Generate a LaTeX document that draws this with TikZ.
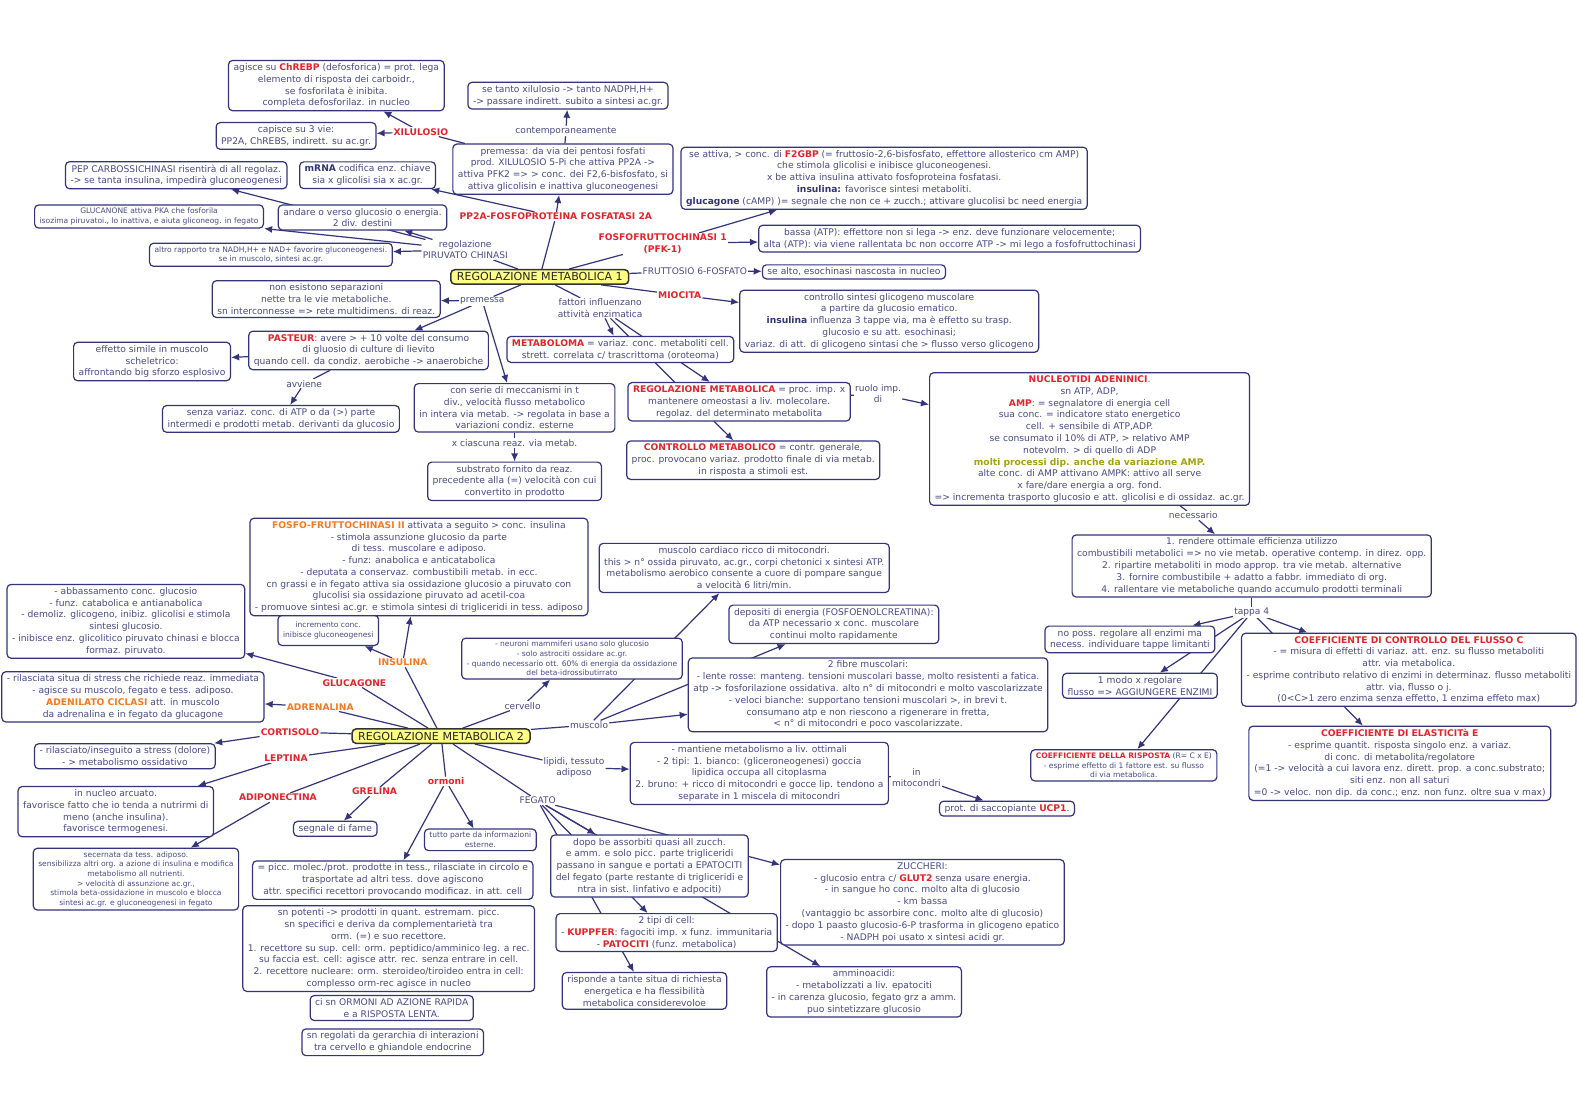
\documentclass[tikz,border=0pt]{standalone}
\usepackage{fontspec}
\setmainfont{DejaVu Sans}
\usepackage{xcolor}
\usepackage{tikz}
\usetikzlibrary{arrows.meta,backgrounds}

\definecolor{edgeblue}{HTML}{34347C}
\definecolor{txtblue}{HTML}{4A4A86}
\definecolor{lblred}{HTML}{E2252B}
\definecolor{lblorange}{HTML}{F27B22}
\definecolor{olivetxt}{HTML}{A3A30C}
\definecolor{mainyellow}{HTML}{FFFF84}

\newcommand{\rkw}[1]{\textbf{\textcolor{lblred}{#1}}}
\newcommand{\okw}[1]{\textbf{\textcolor{lblorange}{#1}}}
\newcommand{\bkw}[1]{\textbf{\textcolor{edgeblue}{#1}}}

\begin{document}
\begin{tikzpicture}[
    x=1pt, y=-1pt,
    box/.style={rectangle, draw=edgeblue, line width=1.2pt, rounded corners=4pt, fill=white, align=center, text=txtblue, inner xsep=5pt, inner ysep=3pt, font=\fontsize{9.1}{11.7}\selectfont},
    smallbox/.style={box, font=\fontsize{7.5}{9.6}\selectfont},
    mainbox/.style={rectangle, draw=black!80, line width=1.5pt, rounded corners=4pt, fill=mainyellow, inner xsep=6pt, inner ysep=3pt, font=\fontsize{11}{13}\selectfont, text=black!85},
    link/.style={align=center, text=txtblue, fill=white, inner sep=1pt, font=\fontsize{9}{11}\selectfont},
    redlabel/.style={link, text=lblred, font=\fontsize{9.1}{11}\selectfont\bfseries},
    orangelabel/.style={redlabel, text=lblorange},
    linkline/.style={draw=edgeblue, line width=1.2pt},
    arrow/.style={linkline, -{Latex[length=8pt,width=7pt]}}
]
    \useasboundingbox (0,0) rectangle (1568,1108);

    % Top left: xilulosio and piruvato chinasi
    \node[box] (chrebp) at (334,85) {agisce su \rkw{ChREBP} (defosforica) = prot. lega\\elemento di risposta dei carboidr.,\\se fosforilata è inibita.\\completa defosforilaz. in nucleo};
    \node[box] (capisce) at (294,135) {capisce su 3 vie:\\PP2A, ChREBS, indirett. su ac.gr.};
    \node[redlabel] (xilulosio) at (418,131) {XILULOSIO};
    \node[box] (pep) at (175,174) {PEP CARBOSSICHINASI risentirà di all regolaz.\\-> se tanta insulina, impedirà gluconeogenesi};
    \node[box] (mrna) at (365,174) {\bkw{mRNA} codifica enz. chiave\\sia x glicolisi sia x ac.gr.};
    \node[smallbox] (glucanone) at (148,215) {GLUCANONE attiva PKA che fosforila\\isozima piruvatoi., lo inattiva, e aiuta gliconeog. in fegato};
    \node[box] (andare) at (360,216) {andare o verso glucosio o energia.\\2 div. destini};
    \node[smallbox] (altro) at (269,253) {altro rapporto tra NADH,H+ e NAD+ favorire gluconeogenesi.\\se in muscolo, sintesi ac.gr.};
    \node[box] (nonesist) at (324,297) {non esistono separazioni\\nette tra le vie metaboliche.\\sn interconnesse => rete multidimens. di reaz.};

    % Top middle
    \node[box] (tantoxil) at (564,95) {se tanto xilulosio -> tanto NADPH,H+\\-> passare indirett. subito a sintesi ac.gr.};
    \node[link] (contemp) at (562,130) {contemporaneamente};
    \node[box] (premessa) at (559,168) {premessa: da via dei pentosi fosfati\\prod. XILULOSIO 5-Pi che attiva PP2A ->\\attiva PFK2 => > conc. dei F2,6-bisfosfato, si\\attiva glicolisin e inattiva gluconeogenesi};
    \node[redlabel] (pp2a) at (552,215) {PP2A-FOSFOPROTEINA FOSFATASI 2A};
    \node[link] (regpiruv) at (462,248) {regolazione\\PIRUVATO CHINASI};
    \node[mainbox] (reg1) at (536,275) {REGOLAZIONE METABOLICA 1};

    % Top right
    \node[box] (f2gbp) at (878,177) {se attiva, > conc. di \rkw{F2GBP} (= fruttosio-2,6-bisfosfato, effettore allosterico cm AMP)\\che stimola glicolisi e inibisce gluconeogenesi.\\x be attiva insulina attivato fosfoproteina fosfatasi.\\\bkw{insulina:} favorisce sintesi metaboliti.\\\bkw{glucagone} (cAMP) )= segnale che non ce + zucch.; attivare glucolisi bc need energia};
    \node[redlabel] (pfk1) at (658,242) {FOSFOFRUTTOCHINASI 1\\(PFK-1)};
    \node[box] (bassa) at (943,237) {bassa (ATP): effettore non si lega -> enz. deve funzionare velocemente;\\alta (ATP): via viene rallentata bc non occorre ATP -> mi lego a fosfofruttochinasi};
    \node[link] (fruttosio) at (690,269) {FRUTTOSIO 6-FOSFATO};
    \node[box] (sealto) at (848,270) {se alto, esochinasi nascosta in nucleo};
    \node[redlabel] (miocita) at (675,293) {MIOCITA};
    \node[box] (glicogeno) at (883,319) {controllo sintesi glicogeno muscolare\\a partire da glucosio ematico.\\\bkw{insulina} influenza 3 tappe via, ma è effetto su trasp.\\glucosio e su att. esochinasi;\\variaz. di att. di glicogeno sintasi che > flusso verso glicogeno};

    % Middle: premessa and fattori
    \node[link] (premessa2) at (479,299) {premessa};
    \node[box] (pasteur) at (366,348) {\rkw{PASTEUR}: avere > + 10 volte del consumo\\di gluosio di culture di lievito\\quando cell. da condiz. aerobiche -> anaerobiche};
    \node[box] (effetto) at (151,359) {effetto simile in muscolo\\scheletrico:\\affrontando big sforzo esplosivo};
    \node[link] (avviene) at (302,381) {avviene};
    \node[box] (senza) at (279,416) {senza variaz. conc. di ATP o da (>) parte\\intermedi e prodotti metab. derivanti da glucosio};
    \node[box] (conserie) at (511,405) {con serie di meccanismi in t\\div., velocità flusso metabolico\\in intera via metab. -> regolata in base a\\variazioni condiz. esterne};
    \node[link] (xciascuna) at (511,440) {x ciascuna reaz. via metab.};
    \node[box] (substrato) at (511,478) {substrato fornito da reaz.\\precedente alla (=) velocità con cui\\convertito in prodotto};
    \node[link] (fattori) at (596,306) {fattori influenzano\\attività enzimatica};
    \node[box] (metaboloma) at (616,347) {\rkw{METABOLOMA} = variaz. conc. metaboliti cell.\\strett. correlata c/ trascrittoma (oroteoma)};
    \node[box] (regmet) at (734,399) {\rkw{REGOLAZIONE METABOLICA} = proc. imp. x\\mantenere omeostasi a liv. molecolare.\\regolaz. del determinato metabolita};
    \node[box] (controllomet) at (748,457) {\rkw{CONTROLLO METABOLICO} = contr. generale,\\proc. provocano variaz. prodotto finale di via metab.\\in risposta a stimoli est.};
    \node[link] (ruolo) at (872,391) {ruolo imp.\\di};

    % Right: nucleotidi and coefficienti
    \node[box] (nucleotidi) at (1082,436) {\rkw{NUCLEOTIDI ADENINICI}.\\sn ATP, ADP,\\\rkw{AMP}: = segnalatore di energia cell\\sua conc. = indicatore stato energetico\\cell. + sensibile di ATP,ADP.\\se consumato il 10\% di ATP, > relativo AMP\\notevolm. > di quello di ADP\\\textbf{\textcolor{olivetxt}{molti processi dip. anche da variazione AMP.}}\\alte conc. di AMP attivano AMPK: attivo all serve\\x fare/dare energia a org. fond.\\=> incrementa trasporto glucosio e att. glicolisi e di ossidaz. ac.gr.};
    \node[link] (necessario) at (1185,512) {necessario};
    \node[box] (rendere) at (1243,562) {1. rendere ottimale efficienza utilizzo\\combustibili metabolici => no vie metab. operative contemp. in direz. opp.\\2. ripartire metaboliti in modo approp. tra vie metab. alternative\\3. fornire combustibile + adatto a fabbr. immediato di org.\\4. rallentare vie metaboliche quando accumulo prodotti terminali};
    \node[link] (tappa) at (1243,608) {tappa 4};
    \node[box] (nopos) at (1122,635) {no poss. regolare all enzimi ma\\necess. individuare tappe limitanti};
    \node[box] (unmodo) at (1132,681) {1 modo x regolare\\flusso => AGGIUNGERE ENZIMI};
    \node[box] (coeffc) at (1399,665) {\rkw{COEFFICIENTE DI CONTROLLO DEL FLUSSO C}\\- = misura di effetti di variaz. att. enz. su flusso metaboliti\\attr. via metabolica.\\- esprime contributo relativo di enzimi in determinaz. flusso metaboliti\\attr. via, flusso o j.\\(0<C>1 zero enzima senza effetto, 1 enzima effeto max)};
    \node[box] (coeffe) at (1390,758) {\rkw{COEFFICIENTE DI ELASTICITà E}\\- esprime quantit. risposta singolo enz. a variaz.\\di conc. di metabolita/regolatore\\(=1 -> velocità a cui lavora enz. dirett. prop. a conc.substrato;\\siti enz. non all saturi\\=0 -> veloc. non dip. da conc.; enz. non funz. oltre sua v max)};
    \node[smallbox] (risposta) at (1116,760) {\rkw{COEFFICIENTE DELLA RISPOSTA} (R= C x E)\\- esprime effetto di 1 fattore est. su flusso\\di via metabolica.};
    \node[box] (ucp1) at (1000,803) {prot. di saccopiante \rkw{UCP1}.};

    % Bottom left: ormoni
    \node[smallbox, minimum height=30pt] (incremento) at (326,626) {incremento conc.\\inibisce gluconeogenesi};
    \node[box] (fosfoII) at (416,563) {\okw{FOSFO-FRUTTOCHINASI II} attivata a seguito > conc. insulina\\- stimola assunzione glucosio da parte\\di tess. muscolare e adiposo.\\- funz: anabolica e anticatabolica\\- deputata a conservaz. combustibili metab. in ecc.\\cn grassi e in fegato attiva sia ossidazione glucosio a piruvato con\\glucolisi sia ossidazione piruvato ad acetil-coa\\- promuove sintesi ac.gr. e stimola sintesi di trigliceridi in tess. adiposo};
    \node[orangelabel] (insulina) at (400,658) {INSULINA};
    \node[redlabel] (glucagone) at (352,678) {GLUCAGONE};
    \node[box] (abbassamento) at (125,617) {- abbassamento conc. glucosio\\- funz. catabolica e antianabolica\\- demoliz. glicogeno, inibiz. glicolisi e stimola\\sintesi glucosio.\\- inibisce enz. glicolitico piruvato chinasi e blocca\\formaz. piruvato.};
    \node[orangelabel] (adrenalina) at (318,702) {ADRENALINA};
    \node[box] (rilasciata) at (132,692) {- rilasciata situa di stress che richiede reaz. immediata\\- agisce su muscolo, fegato e tess. adiposo.\\\okw{ADENILATO CICLASI} att. in muscolo\\da adrenalina e in fegato da glucagone};
    \node[mainbox] (reg2) at (438,731) {REGOLAZIONE METABOLICA 2};
    \node[redlabel] (cortisolo) at (288,727) {CORTISOLO};
    \node[box] (rilasciato) at (124,751) {- rilasciato/inseguito a stress (dolore)\\- > metabolismo ossidativo};
    \node[redlabel] (leptina) at (284,753) {LEPTINA};
    \node[box] (arcuato) at (115,806) {in nucleo arcuato.\\favorisce fatto che io tenda a nutrirmi di\\meno (anche insulina).\\favorisce termogenesi.};
    \node[redlabel] (adiponectina) at (276,792) {ADIPONECTINA};
    \node[smallbox] (secernata) at (135,873) {secernata da tess. adiposo.\\sensibilizza altri org. a azione di insulina e modifica\\metabolismo all nutrienti.\\> velocità di assunzione ac.gr.,\\stimola beta-ossidazione in muscolo e blocca\\sintesi ac.gr. e gluconeogenesi in fegato};
    \node[redlabel] (grelina) at (372,786) {GRELINA};
    \node[box] (fame) at (333,823) {segnale di fame};
    \node[redlabel] (ormoni) at (443,776) {ormoni};
    \node[smallbox] (tuttoparte) at (477,834) {tutto parte da informazioni\\esterne.};
    \node[box] (piccmolec) at (390,874) {= picc. molec./prot. prodotte in tess., rilasciate in circolo e\\trasportate ad altri tess. dove agiscono\\attr. specifici recettori provocando modificaz. in att. cell};
    \node[box] (potenti) at (386,942) {sn potenti -> prodotti in quant. estremam. picc.\\sn specifici e deriva da complementarietà tra\\orm. (=) e suo recettore.\\1. recettore su sup. cell: orm. peptidico/amminico leg. a rec.\\su faccia est. cell: agisce attr. rec. senza entrare in cell.\\2. recettore nucleare: orm. steroideo/tiroideo entra in cell:\\complesso orm-rec agisce in nucleo};
    \node[box] (cisn) at (389,1001) {ci sn ORMONI AD AZIONE RAPIDA\\e a RISPOSTA LENTA.};
    \node[box] (regolati) at (390,1035) {sn regolati da gerarchia di interazioni\\tra cervello e ghiandole endocrine};

    % Bottom right: cervello, muscolo, adiposo, fegato
    \node[link] (cervello) at (519,701) {cervello};
    \node[smallbox] (neuroni) at (568,654) {- neuroni mammiferi usano solo glucosio\\- solo astrociti ossidare ac.gr.\\- quando necessario ott. 60\% di energia da ossidazione\\del beta-idrossibutirrato};
    \node[link] (muscolo) at (585,720) {muscolo};
    \node[box] (cardiaco) at (739,564) {muscolo cardiaco ricco di mitocondri.\\this > n° ossida piruvato, ac.gr., corpi chetonici x sintesi ATP.\\metabolismo aerobico consente a cuore di pompare sangue\\a velocità 6 litri/min.};
    \node[box] (depositi) at (828,620) {depositi di energia (FOSFOENOLCREATINA):\\da ATP necessario x conc. muscolare\\continui molto rapidamente};
    \node[box] (fibre) at (862,690) {2 fibre muscolari:\\- lente rosse: manteng. tensioni muscolari basse, molto resistenti a fatica.\\atp -> fosforilazione ossidativa. alto n° di mitocondri e molto vascolarizzate\\- veloci bianche: supportano tensioni muscolari >, in brevi t.\\consumano atp e non riescono a rigenerare in fretta,\\< n° di mitocondri e poco vascolarizzate.};
    \node[link] (lipidi) at (570,762) {lipidi, tessuto\\adiposo};
    \node[box] (mantiene) at (754,768) {- mantiene metabolismo a liv. ottimali\\- 2 tipi: 1. bianco: (gliceroneogenesi) goccia\\lipidica occupa all citoplasma\\2. bruno: + ricco di mitocondri e gocce lip. tendono a\\separate in 1 miscela di mitocondri};
    \node[link] (inmito) at (910,772) {in\\mitocondri};
    \node[link] (fegato) at (534,795) {FEGATO};
    \node[box] (dopo) at (645,860) {dopo be assorbiti quasi all zucch.\\e amm. e solo picc. parte trigliceridi\\passano in sangue e portati a EPATOCITI\\del fegato (parte restante di trigliceridi e\\ntra in sist. linfativo e adpociti)};
    \node[box] (duetipi) at (662,926) {2 tipi di cell:\\- \rkw{KUPPFER}: fagociti imp. x funz. immunitaria\\- \rkw{PATOCITI} (funz. metabolica)};
    \node[box] (risponde) at (640,984) {risponde a tante situa di richiesta\\energetica e ha flessibilità\\metabolica considerevoloe};
    \node[box] (zuccheri) at (916,896) {ZUCCHERI:\\- glucosio entra c/ \rkw{GLUT2} senza usare energia.\\- in sangue ho conc. molto alta di glucosio\\- km bassa\\(vantaggio bc assorbire conc. molto alte di glucosio)\\- dopo 1 paasto glucosio-6-P trasforma in glicogeno epatico\\- NADPH poi usato x sintesi acidi gr.};
    \node[box] (amminoacidi) at (858,985) {amminoacidi:\\- metabolizzati a liv. epatociti\\- in carenza glucosio, fegato grz a amm.\\puo sintetizzare glucosio};

    % Connectors (behind the boxes)
    \begin{scope}[on background layer]
    \draw[linkline] (reg1) -- (pp2a);
    \draw[arrow] (pp2a) -- (premessa);
    \draw[arrow] (pp2a) -- (mrna);
    \draw[linkline] (premessa) -- (contemp);
    \draw[arrow] (contemp) -- (tantoxil);
    \draw[linkline] (premessa) -- (xilulosio);
    \draw[arrow] (xilulosio) -- (chrebp);
    \draw[arrow] (xilulosio) -- (capisce);
    \draw[linkline] (reg1) -- (regpiruv);
    \draw[arrow] (regpiruv) -- (andare);
    \draw[arrow] (regpiruv) -- (pep);
    \draw[arrow] (regpiruv) -- (glucanone);
    \draw[arrow] (regpiruv) -- (altro);
    \draw[linkline] (reg1) -- (pfk1);
    \draw[arrow] (pfk1) -- (f2gbp);
    \draw[arrow] (pfk1) -- (bassa);
    \draw[linkline] (reg1) -- (fruttosio);
    \draw[arrow] (fruttosio) -- (sealto);
    \draw[linkline] (reg1) -- (miocita);
    \draw[arrow] (miocita) -- (glicogeno);
    \draw[linkline] (reg1) -- (premessa2);
    \draw[arrow] (premessa2) -- (nonesist);
    \draw[arrow] (premessa2) -- (pasteur);
    \draw[arrow] (premessa2) -- (conserie);
    \draw[arrow] (pasteur) -- (effetto);
    \draw[linkline] (pasteur) -- (avviene);
    \draw[arrow] (avviene) -- (senza);
    \draw[linkline] (conserie) -- (xciascuna);
    \draw[arrow] (xciascuna) -- (substrato);
    \draw[linkline] (reg1) -- (fattori);
    \draw[arrow] (fattori) -- (metaboloma);
    \draw[arrow] (fattori) -- (regmet);
    \draw[arrow] (fattori) -- (controllomet);
    \draw[linkline] (regmet) -- (ruolo);
    \draw[arrow] (ruolo) -- (nucleotidi);
    \draw[linkline] (nucleotidi) -- (necessario);
    \draw[arrow] (necessario) -- (rendere);
    \draw[linkline] (rendere) -- (tappa);
    \draw[arrow] (tappa) -- (nopos);
    \draw[arrow] (tappa) -- (unmodo);
    \draw[arrow] (tappa) -- (risposta);
    \draw[arrow] (tappa) -- (coeffc);
    \draw[arrow] (tappa) -- (coeffe);

    \draw[linkline] (reg2) -- (insulina);
    \draw[arrow] (insulina) -- (fosfoII);
    \draw[arrow] (insulina) -- (incremento);
    \draw[linkline] (reg2) -- (glucagone);
    \draw[arrow] (glucagone) -- (abbassamento);
    \draw[linkline] (reg2) -- (adrenalina);
    \draw[arrow] (adrenalina) -- (rilasciata);
    \draw[linkline] (reg2) -- (cortisolo);
    \draw[arrow] (cortisolo) -- (rilasciato);
    \draw[linkline] (reg2) -- (leptina);
    \draw[arrow] (leptina) -- (arcuato);
    \draw[linkline] (reg2) -- (adiponectina);
    \draw[arrow] (adiponectina) -- (secernata);
    \draw[linkline] (reg2) -- (grelina);
    \draw[arrow] (grelina) -- (fame);
    \draw[linkline] (reg2) -- (ormoni);
    \draw[arrow] (ormoni) -- (tuttoparte);
    \draw[arrow] (ormoni) -- (piccmolec);
    \draw[linkline] (reg2) -- (cervello);
    \draw[arrow] (cervello) -- (neuroni);
    \draw[linkline] (reg2) -- (muscolo);
    \draw[arrow] (muscolo) -- (cardiaco);
    \draw[arrow] (muscolo) -- (depositi);
    \draw[arrow] (muscolo) -- (fibre);
    \draw[linkline] (reg2) -- (lipidi);
    \draw[arrow] (lipidi) -- (mantiene);
    \draw[linkline] (mantiene) -- (inmito);
    \draw[arrow] (inmito) -- (ucp1);
    \draw[linkline] (reg2) -- (fegato);
    \draw[arrow] (fegato) -- (dopo);
    \draw[arrow] (fegato) -- (zuccheri);
    \draw[arrow] (fegato) -- (duetipi);
    \draw[arrow] (fegato) -- (risponde);
    \draw[arrow] (fegato) -- (amminoacidi);
    \end{scope}

\end{tikzpicture}
\end{document}
